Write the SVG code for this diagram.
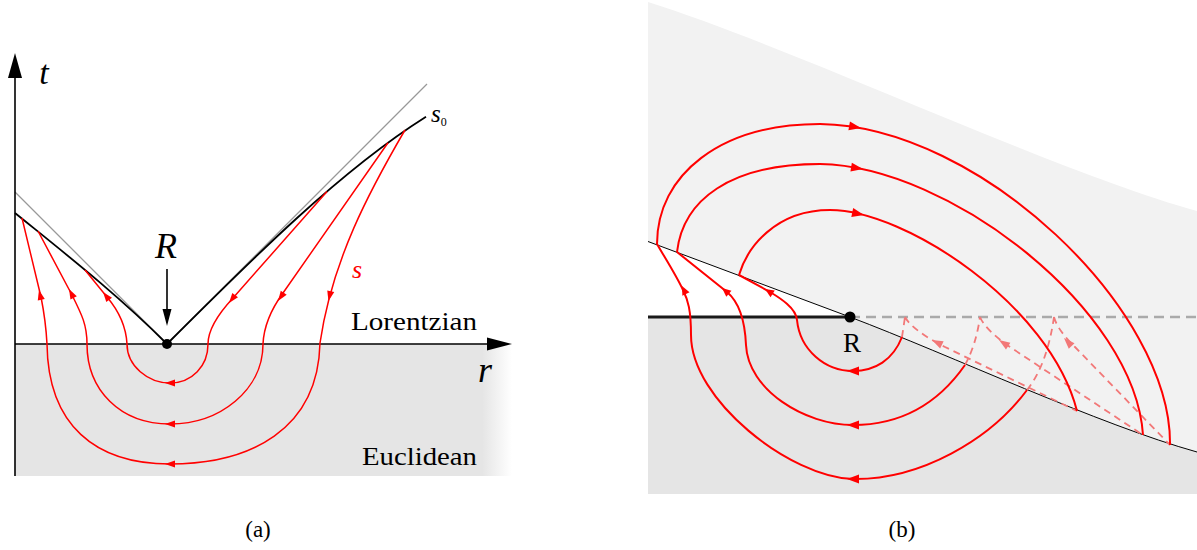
<svg xmlns="http://www.w3.org/2000/svg" xmlns:xlink="http://www.w3.org/1999/xlink" width="1197" height="550" viewBox="0 0 1197 550">
<style>
text{font-family:"Liberation Serif","Times New Roman",serif}
.lbl{fill:#000}
.it{font-style:italic}
.redL{fill:none;stroke:#ff0000;stroke-width:1.5}
.redR{fill:none;stroke:#ff0000;stroke-width:2}
.dash{fill:none;stroke:#f27878;stroke-width:1.8;stroke-dasharray:7 5}
.ax{stroke:#000;stroke-width:1.6;fill:none}
</style>
<defs>
<linearGradient id="eucl" gradientUnits="userSpaceOnUse" x1="15" y1="0" x2="512" y2="0">
<stop offset="0" stop-color="#e5e5e5"/>
<stop offset="0.94" stop-color="#e5e5e5"/>
<stop offset="1" stop-color="#e5e5e5" stop-opacity="0"/>
</linearGradient>
<path id="aL" d="M0,0 L-10,-3.6 L-10,3.6 Z" fill="#ff0000"/>
<path id="aR" d="M0,0 L-12,-4.5 L-12,4.5 Z" fill="#ff0000"/>
<path id="aRs" d="M0,0 L-9,-4 L-9,4 Z" fill="#ff0000"/>
<path id="aD" d="M0,0 L-11,-4 L-11,4 Z" fill="#f27878"/>
</defs>

<!-- ===== Panel (a) ===== -->
<g id="panel-a">
<rect id="euclidean-region" x="15" y="344" width="497" height="132" fill="url(#eucl)"/>
<g id="lightcone" stroke="#999" stroke-width="1.3" fill="none">
<line x1="15" y1="192" x2="167" y2="344"/>
<line x1="167" y1="344" x2="427" y2="84"/>
</g>
<path id="s0-curve" d="M15,213 C65,253.5 117,294 167,344 C253,258 340,171 426,116.8" fill="none" stroke="#000" stroke-width="1.8"/>
<g id="axes">
<line class="ax" x1="15" y1="476" x2="15" y2="70"/>
<path d="M15,53 L22,78 L8,78 Z" fill="#000"/>
<line class="ax" x1="15" y1="344" x2="495" y2="344"/>
<path d="M512,344 L487,337.5 L487,350.5 Z" fill="#000"/>
</g>
<g id="contours-a">
<path class="redL" d="M405,130 C370,190 332,260 320,343 C318,430 250,464 170,464 C95,464 48,425 47,344 C46,325 44,312 41,297 L22,218"/>
<path class="redL" d="M388,142.7 L283,293 C275,304 264,322 263,344 C263,390 220,424 170,424 C120,424 87,390 87,344 C87,325 82,315 72,295 L38,231"/>
<path class="redL" d="M327,191.5 L233,298 C220,312 208,328 208,344 C208,366 192,383 170,383 C148,383 127,366 127,344 C126,325 118,310 107,297 L85,270"/>
<use xlink:href="#aL" transform="translate(229,303) rotate(128)"/>
<use xlink:href="#aL" transform="translate(278,301) rotate(125)"/>
<use xlink:href="#aL" transform="translate(328.5,301) rotate(103)"/>
<use xlink:href="#aL" transform="translate(165,383) rotate(180)"/>
<use xlink:href="#aL" transform="translate(165,424) rotate(180)"/>
<use xlink:href="#aL" transform="translate(165,464) rotate(180)"/>
<use xlink:href="#aL" transform="translate(39,290) rotate(-103)"/>
<use xlink:href="#aL" transform="translate(69,289) rotate(-117.6)"/>
<use xlink:href="#aL" transform="translate(103,292) rotate(-128)"/>
</g>
<g id="R-point-a">
<line x1="167" y1="269" x2="167" y2="312" stroke="#000" stroke-width="1.6"/>
<path d="M167,326 L162.5,309 L171.5,309 Z" fill="#000"/>
<circle cx="167" cy="344" r="5" fill="#000"/>
<text class="lbl it" x="166" y="258" font-family="Liberation Serif, serif" font-size="36" text-anchor="middle">R</text>
</g>
<text class="lbl it" x="44" y="84" font-family="Liberation Serif, serif" font-size="34" text-anchor="middle">t</text>
<text class="lbl it" x="485" y="382" font-family="Liberation Serif, serif" font-size="36" text-anchor="middle">r</text>
<text class="it" x="357" y="278" font-family="Liberation Serif, serif" font-size="26" text-anchor="middle" fill="#ff0000">s</text>
<text class="lbl" x="431" y="122" font-family="Liberation Serif, serif" font-size="25"><tspan font-style="italic">s</tspan><tspan font-size="12" dy="4">0</tspan></text>
<text class="lbl" x="477" y="330" font-family="Liberation Serif, serif" font-size="26" text-anchor="end" textLength="126" lengthAdjust="spacingAndGlyphs">Lorentzian</text>
<text class="lbl" x="477" y="465" font-family="Liberation Serif, serif" font-size="26" text-anchor="end" textLength="115" lengthAdjust="spacingAndGlyphs">Euclidean</text>
<text class="lbl" x="258" y="537" font-family="Liberation Serif, serif" font-size="23" text-anchor="middle">(a)</text>
</g>

<!-- ===== Panel (b) ===== -->
<g id="panel-b">
<path id="upper-sheet" d="M648,2 C800,50 1050,170 1197,211 L1197,452 C1100,425 950,355 850,317 L648,241.5 Z" fill="#f2f2f2"/>
<path id="lower-region" d="M648,317 L850,317 C950,355 1100,425 1197,452 L1197,494 L648,494 Z" fill="#e5e5e5"/>
<path id="diagonal" d="M648,241.5 L850,317 C950,355 1100,425 1197,452" fill="none" stroke="#000" stroke-width="1"/>
<line x1="648" y1="317" x2="850" y2="317" stroke="#1a1a1a" stroke-width="3"/>
<line x1="850" y1="317" x2="1197" y2="317" stroke="#aaa" stroke-width="2.5" stroke-dasharray="10 6"/>
<g id="dashed-continuations">
<path class="dash" d="M902,337 L905,317 M905,317 C910,327 929,339 945,347 L1077,411"/>
<path class="dash" d="M965,365 Q976,345 980,317 M980,317 C984,327 997,338 1010,347 L1143,435"/>
<path class="dash" d="M1027,390 Q1047,365 1054,317 M1054,317 C1057,328 1066,338 1075,347 L1170,445"/>
<use xlink:href="#aD" transform="translate(932,340) rotate(206)"/>
<use xlink:href="#aD" transform="translate(999,340) rotate(213.5)"/>
<use xlink:href="#aD" transform="translate(1064,338) rotate(226)"/>
</g>
<g id="contours-b">
<path class="redR" d="M657,244 C657,175 720,124 820,124 C980,126 1172,310 1170,445"/>
<path class="redR" d="M677,252 C683,200 730,164 820,164 C950,166 1135,310 1143,435"/>
<path class="redR" d="M739,275 C747,248 775,210 830,210 C905,210 1050,305 1077,411"/>
<path class="redR" d="M1027,390 C990,440 920,480 853,479 C790,477 691,400 691,335 C691,310 688,300 683,290 C676,275 665,258 657,244"/>
<path class="redR" d="M965,365 C935,408 895,425 853,425 C805,425 748,390 746,345 C745,322 739,302 727,292 L677,252"/>
<path class="redR" d="M902,337 C893,360 875,371 853,371 C825,371 800,350 797,320 C796,308 780,298 770,292 L739,275"/>
<use xlink:href="#aR" transform="translate(861,128) rotate(10)"/>
<use xlink:href="#aR" transform="translate(863,169) rotate(9)"/>
<use xlink:href="#aR" transform="translate(864,215) rotate(12)"/>
<use xlink:href="#aR" transform="translate(847,479) rotate(180)"/>
<use xlink:href="#aR" transform="translate(847,425) rotate(180)"/>
<use xlink:href="#aR" transform="translate(847,371) rotate(180)"/>
<use xlink:href="#aRs" transform="translate(682,286) rotate(-116)"/>
<use xlink:href="#aRs" transform="translate(722,288) rotate(-140)"/>
<use xlink:href="#aRs" transform="translate(765,289) rotate(-148)"/>
</g>
<g id="R-point-b">
<circle cx="850" cy="317" r="5.5" fill="#000"/>
<text class="lbl" x="852" y="352" font-family="Liberation Serif, serif" font-size="27" text-anchor="middle">R</text>
</g>
<text class="lbl" x="902" y="537" font-family="Liberation Serif, serif" font-size="23" text-anchor="middle">(b)</text>
</g>
</svg>
